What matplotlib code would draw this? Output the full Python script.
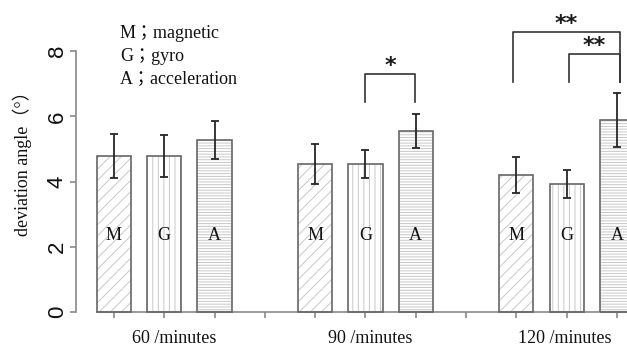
import numpy as np
import matplotlib
matplotlib.use("Agg")
import matplotlib.pyplot as plt

# values
groups = ["60 /minutes", "90 /minutes", "120 /minutes"]
sensors = ["M", "G", "A"]
legend_lines = ["M\uff1bmagnetic", "G\uff1bgyro", "A\uff1bacceleration"]
means = {
    "M": [4.79, 4.54, 4.20],
    "G": [4.78, 4.54, 3.93],
    "A": [5.28, 5.55, 5.89],
}
errs = {
    "M": [0.67, 0.60, 0.55],
    "G": [0.65, 0.42, 0.44],
    "A": [0.58, 0.53, 0.82],
}
# significance brackets: (left x, right x, top, leg bottom, label)
brackets = [
    (5.0, 5.98, 7.30, 6.44, "*"),
    (7.93, 10.06, 8.59, 7.06, "**"),
    (9.05, 10.06, 7.91, 7.06, "**"),
]
yticks = [0, 2, 4, 6, 8]

serif = ["Liberation Serif", "Noto Sans CJK JP"]
hatches = {"M": "///", "G": "|||", "A": "------"}
edge = "#666666"
label_x = [1.2, 5.1, 8.97]
plt.rcParams["hatch.linewidth"] = 0.7

fig = plt.figure(figsize=(6.27, 3.47), dpi=100)
ax = fig.add_axes([0, 0, 1, 1])
ax.set_xlim(-2.266, 10.2)
ax.set_ylim(-1.074, 9.571)

width = 0.68
for gi, g in enumerate(groups):
    for si, s in enumerate(sensors):
        x = gi * 4 + si
        h = means[s][gi]
        ax.bar(x, h, width, color="white", edgecolor="#c8c8c8",
               hatch=hatches[s], linewidth=0, zorder=2)
        ax.bar(x, h, width, fill=False, edgecolor=edge, linewidth=1.2,
               zorder=3)
        ax.errorbar(x, h, yerr=errs[s][gi], color="#262626", lw=1.3,
                    capsize=3.2, capthick=1.3, zorder=4)
        ax.text(x, 2.35, s, ha="center", va="center", fontsize=13,
                family=serif, color="#111111", zorder=5)
    ax.text(label_x[gi], -0.8, g, ha="center", va="center",
            fontsize=13, family=serif, color="#111111")

for x1, x2, top, bot, lab in brackets:
    ax.plot([x1, x1, x2, x2], [bot, top, top, bot], color="#333333",
            lw=1.2, zorder=4)
    ax.text((x1 + x2) / 2, top + 0.06, lab, ha="center", va="baseline",
            fontsize=16, fontweight="bold", color="#1a1a1a",
            family="DejaVu Sans")

for i, t in enumerate(legend_lines):
    ax.text(0.12, 8.53 - i * 0.68, t, ha="left", va="center",
            fontsize=13, family=serif, color="#111111")

ax.text(-1.82, 4.69, "deviation angle\uff08\u00b0\uff09", rotation=90,
        ha="center", va="center", fontsize=13, family=serif,
        color="#111111")

# R-style axes
for side in ["top", "right"]:
    ax.spines[side].set_visible(False)
ax.spines["left"].set_position(("data", -0.755))
ax.spines["left"].set_bounds(0, 8)
ax.spines["bottom"].set_position(("data", 0))
ax.spines["bottom"].set_bounds(-width / 2, 10.2)
for side in ["left", "bottom"]:
    ax.spines[side].set_color("#8a8a8a")
    ax.spines[side].set_linewidth(1.2)

ax.set_yticks(yticks)
ax.set_yticklabels([str(v) for v in yticks], rotation=90, va="center",
                   fontsize=16, family="Liberation Sans", color="#111111")
ax.tick_params(axis="y", length=4, width=1.2, color="#8a8a8a", pad=2,
               direction="out")
ax.set_xticks(np.arange(0, 11))
ax.set_xticklabels([])
ax.tick_params(axis="x", length=4, width=1.2, color="#8a8a8a",
               direction="out")

fig.savefig("out.png", dpi=100)
